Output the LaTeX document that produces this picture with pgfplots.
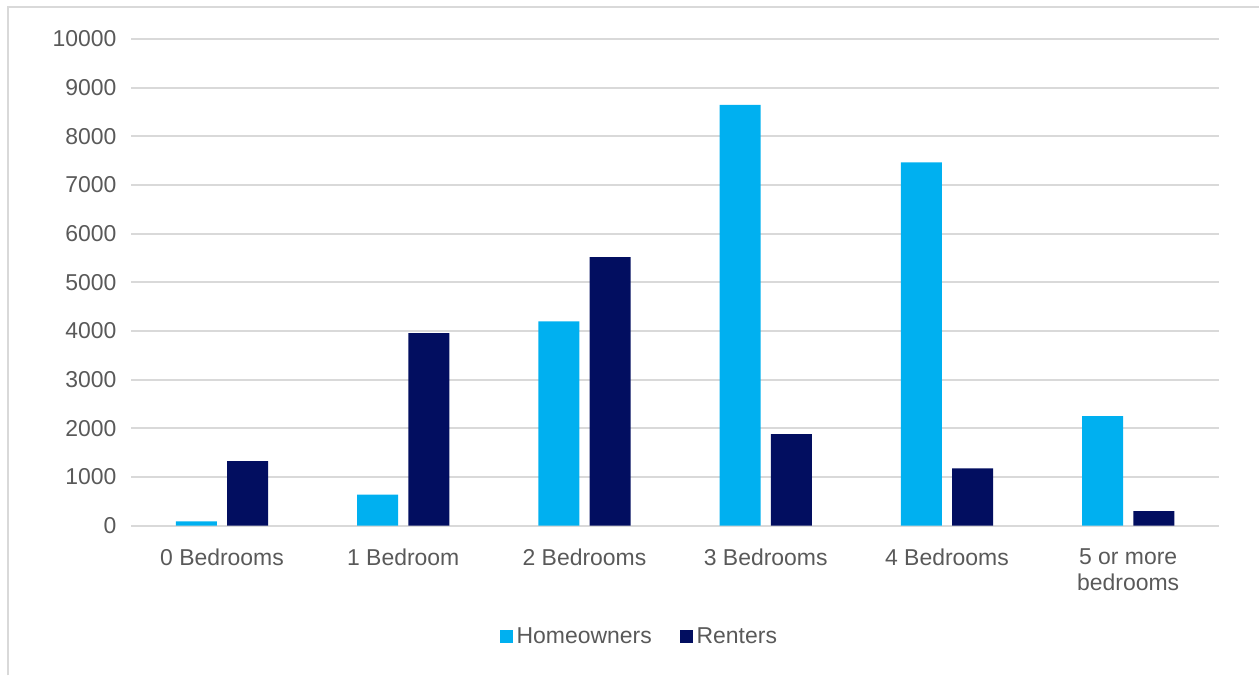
\documentclass[border=0pt]{standalone}
\usepackage{pgfplots}
\pgfplotsset{compat=1.18}
\usepackage{fontspec}
\setmainfont{Liberation Sans}
\definecolor{homec}{RGB}{0,176,240}
\definecolor{rentc}{RGB}{2,14,96}
\definecolor{gridc}{RGB}{217,217,217}
\definecolor{txtc}{RGB}{89,89,89}
\begin{document}
\begin{tikzpicture}[x=0.5pt,y=0.5pt]
\path (0,0) rectangle (1260,675);
\draw[gridc,line width=1pt] (8,-2) -- (8,668) -- (1262,668);
\begin{axis}[
  at={(65.85pt,74pt)}, anchor=south west,
  scale only axis, width=545pt, height=244pt,
  xmin=-0.5, xmax=5.5, ymin=0, ymax=10000,
  axis line style={draw=none},
  major tick length=0pt,
  ymajorgrids, grid style={gridc,line width=1pt},
  ytick={0,1000,...,10000},
  xtick={0,1,2,3,4,5},
  xticklabels={0 Bedrooms,1 Bedroom,2 Bedrooms,3 Bedrooms,4 Bedrooms,{5 or more\\bedrooms}},
  font=\fontsize{11.5pt}{13pt}\selectfont,
  tick label style={txtc},
  xticklabel style={align=center, yshift=-8pt},
  yticklabel style={xshift=-4pt},
  /pgf/number format/assume math mode=true,
  scaled y ticks=false,
  yticklabel={\pgfmathprintnumber[fixed,1000 sep={}]{\tick}},
  legend style={at={(0.468,-0.228)}, anchor=center, draw=none, fill=none,
    legend columns=2, font=\fontsize{11.5pt}{13pt}\selectfont, text=txtc,
    /tikz/every even column/.append style={column sep=12pt},
    inner sep=0pt},
  legend cell align=left,
  legend image code/.code={\fill[#1] (0pt,-3.25pt) rectangle (6.5pt,3.25pt);},
]
\addplot[ybar, bar width=20.5pt, bar shift=-12.85pt, fill=homec, draw=none]
  coordinates {(0,90) (1,640) (2,4200) (3,8646) (4,7462) (5,2251)};
\addlegendentry{Homeowners}
\addplot[ybar, bar width=20.5pt, bar shift=12.85pt, fill=rentc, draw=none]
  coordinates {(0,1327) (1,3955) (2,5515) (3,1881) (4,1178) (5,301)};
\addlegendentry{Renters}
\end{axis}
\end{tikzpicture}
\end{document}
